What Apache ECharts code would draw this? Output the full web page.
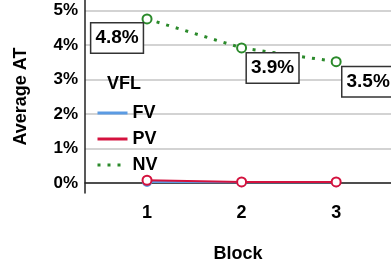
<!DOCTYPE html>
<html>
<head>
<meta charset="utf-8">
<script src="https://cdn.jsdelivr.net/npm/echarts@6/dist/echarts.min.js"></script>
<style>
  html, body { margin: 0; padding: 0; background: #fff; }
  #chart { width: 391px; height: 269px; }
</style>
</head>
<body>
<div id="chart"></div>
<script>
  var blocks = [1, 2, 3];
  var fv = [0.03, 0.02, 0.02];
  var pv = [0.08, 0.03, 0.03];
  var nv = [4.76, 3.92, 3.52];
  var nvLabels = ['4.8%', '3.9%', '3.5%'];
  var yTicks = [0, 1, 2, 3, 4, 5];

  var font = 'Liberation Sans, Arial, sans-serif';
  // where each box sits relative to its point
  var labelOffsets = [[-30, 19], [31, 20], [32, 20]];

  function pairs(vals) {
    return blocks.map(function (b, i) { return [b, vals[i]]; });
  }

  var nvData = blocks.map(function (b, i) {
    return {
      value: [b, nv[i]],
      label: {
        show: true,
        position: 'inside',
        offset: labelOffsets[i],
        formatter: nvLabels[i]
      }
    };
  });

  var chart = echarts.init(document.getElementById('chart'));
  chart.setOption({
    animation: false,
    title: {
      text: 'VFL',
      left: 107,
      top: 75,
      padding: 0,
      textStyle: { fontFamily: font, fontSize: 18, fontWeight: 'bold', color: '#000' }
    },
    legend: {
      orient: 'vertical',
      left: 96,
      top: 104,
      padding: 0,
      itemWidth: 30,
      itemHeight: 14,
      itemGap: 8,
      itemStyle: { opacity: 0 },
      lineStyle: { width: 3 },
      textStyle: { fontFamily: font, fontSize: 18, fontWeight: 'bold', color: '#000', padding: [4, 0, 0, 0] },
      data: ['FV', 'PV', 'NV']
    },
    grid: { left: 85, right: 0, top: 0, bottom: 76 },
    xAxis: {
      type: 'value',
      min: 0.344,
      max: 3.58,
      name: 'Block',
      nameLocation: 'middle',
      nameGap: 52,
      nameTextStyle: { fontFamily: font, fontSize: 18, fontWeight: 'bold', color: '#000' },
      axisLine: { show: true, lineStyle: { color: '#222', width: 1.5 } },
      axisTick: { show: false, customValues: blocks },
      axisLabel: {
        customValues: blocks,
        margin: 11,
        fontFamily: font, fontSize: 18, fontWeight: 'bold', color: '#000'
      },
      splitLine: { show: false }
    },
    yAxis: {
      type: 'value',
      min: -0.29,
      max: 5.31,
      name: 'Average AT',
      nameLocation: 'middle',
      nameGap: 55,
      nameTextStyle: { fontFamily: font, fontSize: 18, fontWeight: 'bold', color: '#000' },
      axisLine: { show: true, lineStyle: { color: '#222', width: 1.5 } },
      axisTick: { show: false, customValues: yTicks },
      axisLabel: {
        customValues: yTicks,
        formatter: '{value}%',
        margin: 7,
        fontFamily: font, fontSize: 17, fontWeight: 'bold', color: '#000'
      },
      splitLine: { show: true, lineStyle: { color: '#c4c4c4', width: 1.5 } }
    },
    series: [
      {
        name: 'FV',
        type: 'line',
        data: pairs(fv),
        symbol: 'emptyCircle',
        symbolSize: 8,
        color: '#5b9be3',
        lineStyle: { width: 2 }
      },
      {
        name: 'PV',
        type: 'line',
        data: pairs(pv),
        symbol: 'emptyCircle',
        symbolSize: 9,
        color: '#d4123e',
        lineStyle: { width: 2 }
      },
      {
        name: 'NV',
        type: 'line',
        data: nvData,
        symbol: 'emptyCircle',
        symbolSize: 9,
        color: '#2b8a2b',
        lineStyle: { width: 3, type: [3, 7] },
        label: {
          fontFamily: font, fontSize: 19, fontWeight: 'bold', color: '#000',
          backgroundColor: '#fff',
          borderColor: '#333',
          borderWidth: 1.5,
          padding: [5, 4, 5, 4]
        }
      }
    ]
  });
</script>
</body>
</html>
